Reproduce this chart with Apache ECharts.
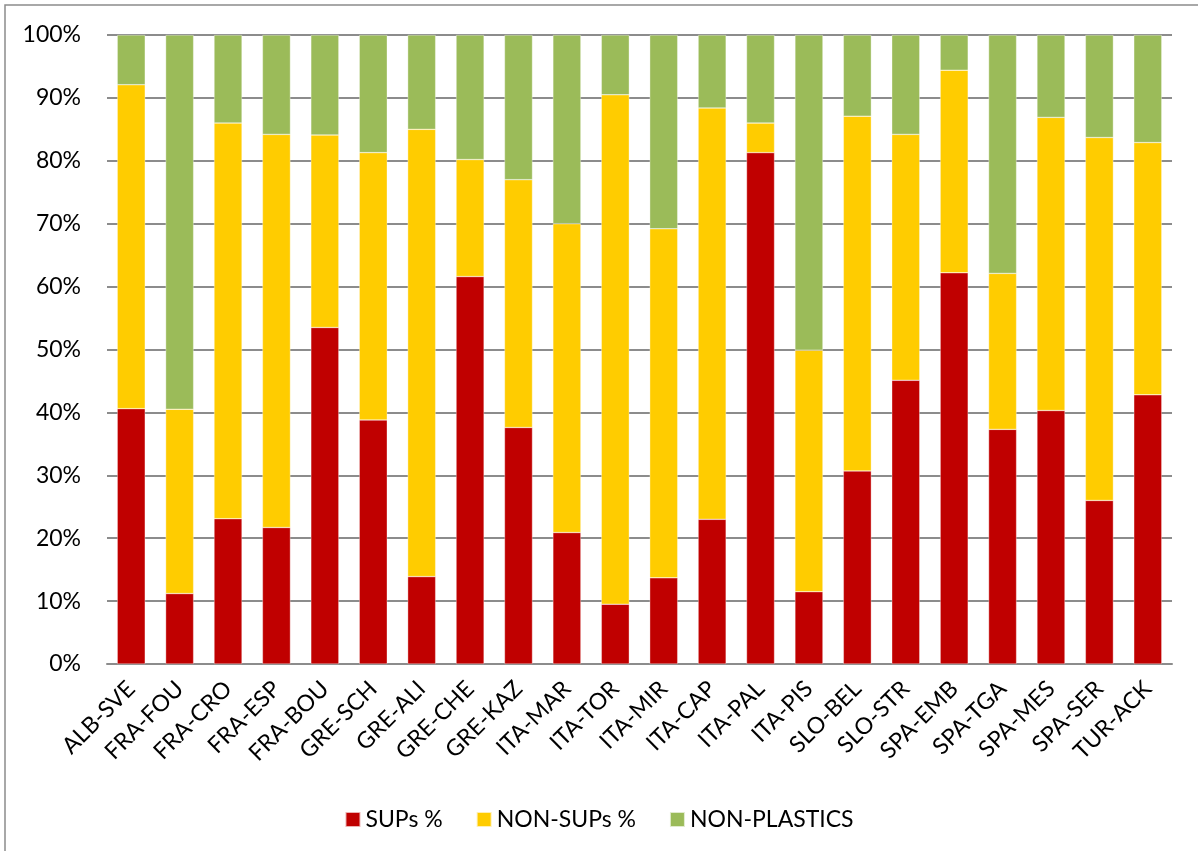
<!DOCTYPE html>
<html>
<head>
<meta charset="utf-8">
<title>SUPs share by site</title>
<script src="https://cdn.jsdelivr.net/npm/echarts@6/dist/echarts.min.js"></script>
<style>
  html, body { margin: 0; padding: 0; background: #fff; }
  #chart { width: 1198px; height: 851px; }
</style>
</head>
<body>
<div id="chart"></div>
<script>
// site codes along the x axis
var sites = ["ALB-SVE", "FRA-FOU", "FRA-CRO", "FRA-ESP", "FRA-BOU", "GRE-SCH", "GRE-ALI", "GRE-CHE",
  "GRE-KAZ", "ITA-MAR", "ITA-TOR", "ITA-MIR", "ITA-CAP", "ITA-PAL", "ITA-PIS", "SLO-BEL",
  "SLO-STR", "SPA-EMB", "SPA-TGA", "SPA-MES", "SPA-SER", "TUR-ACK"];

// percentages
var sups = [40.6, 11.2, 23.1, 21.7, 53.5, 38.8, 13.9, 61.6, 37.6, 20.9, 9.5,
  13.7, 23.0, 81.3, 11.5, 30.7, 45.1, 62.2, 37.3, 40.3, 26.0, 42.8];
var nonSups = [51.5, 29.3, 62.9, 62.5, 30.6, 42.5, 71.1, 18.6, 39.4, 49.1, 81.0,
  55.5, 65.4, 4.7, 38.4, 56.4, 39.1, 32.2, 24.8, 46.6, 57.7, 40.1];
var nonPlastics = [7.9, 59.5, 14.0, 15.8, 15.9, 18.7, 15.0, 19.8, 23.0, 30.0, 9.5,
  30.8, 11.6, 14.0, 50.1, 12.9, 15.8, 5.6, 37.9, 13.1, 16.3, 17.1];

var seriesNames = ["SUPs %", "NON-SUPs %", "NON-PLASTICS"];
var seriesColors = ["#c00000", "#ffcc00", "#9bbb59"];

var font = "Lato, 'Open Sans', sans-serif";

function barSeries(name, data, color) {
  return {
    name: name,
    type: "bar",
    stack: "total",
    barWidth: 28,
    data: data,
    itemStyle: {
      color: color,
      borderColor: "rgba(255,255,255,0.7)",
      borderWidth: 0.5,
    },
  };
}

var chart = echarts.init(document.getElementById("chart"), null, { renderer: "canvas" });
var option = {
  backgroundColor: "#fff",
  animation: false,
  textStyle: { fontFamily: font },
  graphic: [
    {
      // chart area frame, only the left and top edges fall inside the picture
      type: "rect",
      shape: { x: 5, y: 5, width: 1300, height: 1000 },
      style: { fill: "none", stroke: "#8c8c8c", lineWidth: 1.5 },
      silent: true,
    },
  ],
  grid: {
    left: 107,
    right: 26,
    top: 35,
    bottom: 187,
  },
  legend: {
    data: seriesNames,
    top: 803,
    left: "center",
    itemWidth: 15,
    itemHeight: 15,
    itemGap: 33,
    icon: "rect",
    textStyle: { fontSize: 23, color: "#000", fontFamily: font },
  },
  xAxis: {
    type: "category",
    data: sites,
    axisLine: { show: true, lineStyle: { color: "#8c8c8c", width: 2 } },
    axisTick: { show: false },
    axisLabel: {
      rotate: 45,
      interval: 0,
      fontSize: 23,
      color: "#000",
      margin: 21,
      fontFamily: font,
    },
  },
  yAxis: {
    type: "value",
    min: 0,
    max: 100,
    interval: 10,
    axisLine: { show: false },
    axisTick: { show: false },
    splitLine: { lineStyle: { color: "#8c8c8c", width: 2 } },
    axisLabel: {
      formatter: "{value}%",
      fontSize: 23,
      color: "#000",
      margin: 26,
      fontFamily: font,
    },
  },
  series: [
    barSeries(seriesNames[0], sups, seriesColors[0]),
    barSeries(seriesNames[1], nonSups, seriesColors[1]),
    barSeries(seriesNames[2], nonPlastics, seriesColors[2]),
  ],
};
chart.setOption(option);
</script>
</body>
</html>
